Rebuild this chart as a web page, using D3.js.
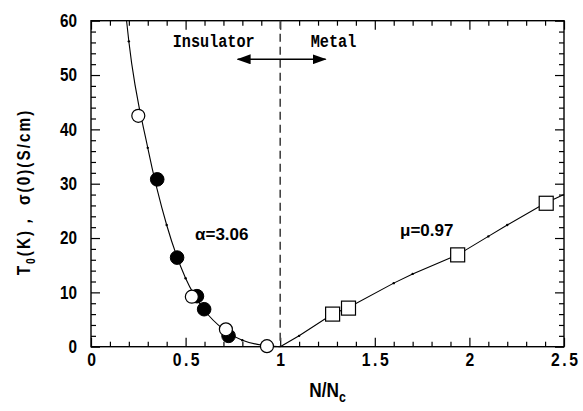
<!DOCTYPE html>
<html>
<head>
<meta charset="utf-8">
<script src="https://cdn.jsdelivr.net/npm/d3@7"></script>
<style>
  body { margin: 0; background: #fff; }
  svg { display: block; }
</style>
</head>
<body>
<div id="chart"></div>
<script>
// data
var openX = [0.25, 0.533, 0.713, 0.93];
var openY = [42.5, 9.2, 3.2, 0.1];
var filledX = [0.35, 0.455, 0.56, 0.598, 0.727];
var filledY = [30.8, 16.4, 9.3, 6.9, 2.0];
var squareX = [1.277, 1.361, 1.938, 2.406];
var squareY = [6.0, 7.1, 16.9, 26.4];
// fitted curves (sampled)
var insFitX = [0.188, 0.2, 0.3, 0.4, 0.5, 0.6, 0.7, 0.8, 0.9, 1.0];
var insFitY = [60, 56.2, 36.6, 22.4, 12.6, 6.7, 3.2, 1.2, 0.3, 0];
var metFitX = [1.0, 1.1, 1.277, 1.361, 1.6, 1.7, 1.938, 2.1, 2.2, 2.4, 2.5];
var metFitY = [0, 2.0, 6.0, 7.2, 11.7, 13.4, 16.9, 20.3, 22.4, 26.4, 28.0];
var xMajor = [0, 0.5, 1, 1.5, 2, 2.5];
var yMajor = [0, 10, 20, 30, 40, 50, 60];

var svgWidth = 583;
var svgHeight = 411;
var margin = { top: 20.7, right: 19, bottom: 64.3, left: 91 };
var width = svgWidth - margin.left - margin.right;
var height = svgHeight - margin.top - margin.bottom;

var svg = d3.select("#chart")
    .append("svg")
    .attr("width", svgWidth)
    .attr("height", svgHeight);

var chartGroup = svg.append("g")
    .attr("transform", `translate(${margin.left}, ${margin.top})`);

var x = d3.scaleLinear().domain([0, 2.5]).range([0, width]);
var y = d3.scaleLinear().domain([0, 60]).range([height, 0]);

var xMinor = d3.range(0, 2.51, 0.1).map(d => +d.toFixed(2)).filter(d => xMajor.indexOf(d) < 0);
var yMinor = d3.range(0, 61, 2).filter(d => d % 10 !== 0);

var sansFont = "'Liberation Sans', Arial, sans-serif";
var monoFont = "'Liberation Mono', 'DejaVu Sans Mono', monospace";

function styleAxis(g) {
    g.select(".domain").remove();
    g.selectAll("line").attr("stroke", "#000").attr("stroke-width", 1.2);
}

// bottom axis
var xAxis = chartGroup.append("g")
    .attr("transform", `translate(0, ${height})`)
    .call(d3.axisBottom(x).tickValues(xMajor).tickSize(-9).tickPadding(6)
        .tickFormat(d => Number.isInteger(d) ? d3.format("d")(d) : d3.format(".1f")(d)));
styleAxis(xAxis);
xAxis.selectAll("text")
    .attr("font-family", sansFont)
    .attr("font-weight", "bold")
    .attr("font-size", "18.5px")
    .attr("letter-spacing", "3px")
    .attr("fill", "#000")
    .attr("x", 1.5)
    .attr("transform", "scale(0.85,1)");
chartGroup.append("g")
    .attr("transform", `translate(0, ${height})`)
    .call(d3.axisBottom(x).tickValues(xMinor).tickSize(-5).tickFormat(""))
    .call(styleAxis);

// top axis
chartGroup.append("g")
    .call(d3.axisTop(x).tickValues(xMajor).tickSize(-9).tickFormat(""))
    .call(styleAxis);
chartGroup.append("g")
    .call(d3.axisTop(x).tickValues(xMinor).tickSize(-5).tickFormat(""))
    .call(styleAxis);

// left axis
var yAxis = chartGroup.append("g")
    .call(d3.axisLeft(y).tickValues(yMajor).tickSize(-9).tickPadding(14));
styleAxis(yAxis);
yAxis.selectAll("text")
    .attr("font-family", sansFont)
    .attr("font-weight", "bold")
    .attr("font-size", "18px")
    .attr("fill", "#000")
    .attr("dy", "0.33em")
    .attr("transform", "scale(0.85,1)")
    .attr("x", -14 / 0.85);
chartGroup.append("g")
    .call(d3.axisLeft(y).tickValues(yMinor).tickSize(-5).tickFormat(""))
    .call(styleAxis);

// right axis
chartGroup.append("g")
    .attr("transform", `translate(${width}, 0)`)
    .call(d3.axisRight(y).tickValues(yMajor).tickSize(-9).tickFormat(""))
    .call(styleAxis);
chartGroup.append("g")
    .attr("transform", `translate(${width}, 0)`)
    .call(d3.axisRight(y).tickValues(yMinor).tickSize(-5).tickFormat(""))
    .call(styleAxis);

// frame
chartGroup.append("rect")
    .attr("width", width)
    .attr("height", height)
    .attr("fill", "none")
    .attr("stroke", "#000")
    .attr("stroke-width", 1.4);

// dashed boundary at N/Nc = 1
chartGroup.append("line")
    .attr("x1", x(1)).attr("x2", x(1))
    .attr("y1", 0).attr("y2", height)
    .attr("stroke", "#444")
    .attr("stroke-width", 1.6)
    .attr("stroke-dasharray", "8,5");

// double arrow
var defs = svg.append("defs");
defs.append("marker")
    .attr("id", "head")
    .attr("viewBox", "0 0 14 10")
    .attr("refX", 13).attr("refY", 5)
    .attr("markerWidth", 14).attr("markerHeight", 10)
    .attr("markerUnits", "userSpaceOnUse")
    .attr("orient", "auto-start-reverse")
    .append("path")
    .attr("d", "M0,0 L14,5 L0,10 Z")
    .attr("fill", "#000");
chartGroup.append("line")
    .attr("x1", x(0.775)).attr("x2", x(1.24))
    .attr("y1", y(52.9)).attr("y2", y(52.9))
    .attr("stroke", "#000")
    .attr("stroke-width", 1.4)
    .attr("marker-start", "url(#head)")
    .attr("marker-end", "url(#head)");

chartGroup.append("text")
    .attr("transform", `translate(${172.7 - margin.left}, ${46.7 - margin.top}) scale(0.8,1)`)
    .attr("font-family", monoFont)
    .attr("font-weight", "bold")
    .attr("font-size", "19px")
    .text("Insulator");
chartGroup.append("text")
    .attr("transform", `translate(${310.7 - margin.left}, ${46.7 - margin.top}) scale(0.8,1)`)
    .attr("font-family", monoFont)
    .attr("font-weight", "bold")
    .attr("font-size", "19px")
    .text("Metal");

// fit curves
var insLine = d3.line()
    .x(d => x(d[0])).y(d => y(d[1]))
    .curve(d3.curveMonotoneX);
var insData = insFitX.map((d, i) => [d, insFitY[i]]);
chartGroup.append("path")
    .datum(insData)
    .attr("d", insLine)
    .attr("fill", "none")
    .attr("stroke", "#000")
    .attr("stroke-width", 1.1);

var metLine = d3.line().x(d => x(d[0])).y(d => y(d[1]));
var metData = metFitX.map((d, i) => [d, metFitY[i]]);
chartGroup.append("path")
    .datum(metData)
    .attr("d", metLine)
    .attr("fill", "none")
    .attr("stroke", "#000")
    .attr("stroke-width", 1.1);

// small sample marks on the curves
chartGroup.append("g")
    .selectAll("circle")
    .data(insData.slice(1, -1).concat(metData.slice(1, -1)))
    .enter()
    .append("circle")
    .attr("cx", d => x(d[0]))
    .attr("cy", d => y(d[1]))
    .attr("r", 1.2)
    .attr("fill", "#000");

// markers
chartGroup.append("g")
    .selectAll("circle")
    .data(filledX.map((d, i) => [d, filledY[i]]))
    .enter()
    .append("circle")
    .attr("cx", d => x(d[0]))
    .attr("cy", d => y(d[1]))
    .attr("r", 6.8)
    .attr("fill", "#000")
    .attr("stroke", "#000");

chartGroup.append("g")
    .selectAll("circle")
    .data(openX.map((d, i) => [d, openY[i]]))
    .enter()
    .append("circle")
    .attr("cx", d => x(d[0]))
    .attr("cy", d => y(d[1]))
    .attr("r", 6.5)
    .attr("fill", "#fff")
    .attr("stroke", "#000")
    .attr("stroke-width", 1.2);

chartGroup.append("g")
    .selectAll("rect")
    .data(squareX.map((d, i) => [d, squareY[i]]))
    .enter()
    .append("rect")
    .attr("x", d => x(d[0]) - 7)
    .attr("y", d => y(d[1]) - 7)
    .attr("width", 14)
    .attr("height", 14)
    .attr("fill", "#fff")
    .attr("stroke", "#000")
    .attr("stroke-width", 1.2);

// exponent annotations
chartGroup.append("text")
    .attr("x", 195 - margin.left)
    .attr("y", 240 - margin.top)
    .attr("font-family", sansFont)
    .attr("font-weight", "bold")
    .attr("font-size", "17px")
    .text("\u03b1=3.06");
chartGroup.append("text")
    .attr("x", 400 - margin.left)
    .attr("y", 236 - margin.top)
    .attr("font-family", sansFont)
    .attr("font-weight", "bold")
    .attr("font-size", "17px")
    .text("\u03bc=0.97");

// axis titles
var xTitle = svg.append("text")
    .attr("transform", `translate(${margin.left + width / 2}, 397) scale(0.82,1)`)
    .attr("text-anchor", "middle")
    .attr("font-family", sansFont)
    .attr("font-weight", "bold")
    .attr("font-size", "21px");
xTitle.append("tspan").text("N/N");
xTitle.append("tspan").attr("font-size", "15px").attr("dy", "5").text("c");

var yTitle = svg.append("text")
    .attr("transform", "translate(30, 192) rotate(-90) scale(0.85,1)")
    .attr("text-anchor", "middle")
    .attr("font-family", sansFont)
    .attr("font-weight", "bold")
    .attr("font-size", "18px")
    .attr("letter-spacing", "2.4px");
yTitle.append("tspan").text("T");
yTitle.append("tspan").attr("font-size", "12px").attr("dy", "5").text("0");
yTitle.append("tspan").attr("dy", "-5").text("(K)\uff0c \u03c3(0)(S/cm)");
</script>
</body>
</html>
